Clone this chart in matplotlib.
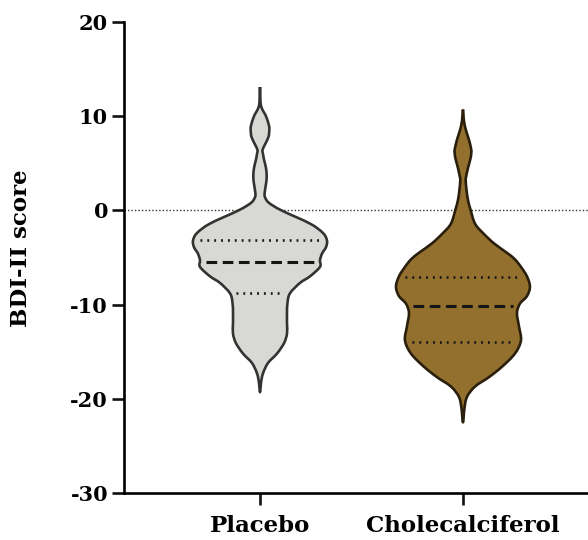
import numpy as np
import matplotlib.pyplot as plt
from matplotlib.path import Path
from matplotlib.patches import PathPatch

plt.rcParams["axes.unicode_minus"] = False

groups = ["Placebo", "Cholecalciferol"]
colors = ["#d8d9d4", "#93702e"]
edges = ["#333333", "#2a1f0c"]

# violin outline: score and half-width (relative density)
placebo_score = [13.1, 11.5, 10.8, 10.0, 9.0, 8.5, 7.8, 7.0, 6.4, 6.0, 5.4, 4.5, 3.6,
                 2.8, 1.9, 1.4, 0.8, 0.0, -1.4, -2.4, -3.2, -3.9, -4.6, -5.3, -6.0,
                 -7.0, -7.7, -8.8, -9.8, -10.9, -12.0, -13.1, -14.1, -15.2, -16.2,
                 -17.3, -18.3, -19.3]
placebo_width = [0, 0.5, 2, 6, 9, 9.3, 8.5, 5, 2.5, 3, 4, 6, 6.7,
                 6, 4.7, 5, 9, 21.5, 50, 63, 67, 66, 62, 60, 60,
                 50, 40, 30, 27.5, 27, 27, 27, 24, 17, 8,
                 3, 1, 0]

chole_score = [10.7, 9.5, 8.5, 7.5, 6.5, 6.1, 5.5, 4.5, 3.5, 3.2, 2.2, 1.1, 0.1,
               -1.4, -2.4, -3.5, -4.5, -5.2, -6.0, -7.0, -8.1, -9.1, -9.9, -10.9,
               -12.3, -13.8, -15.2, -16.6, -17.7, -18.7, -19.8, -21.0, -22.5]
chole_width = [0, 1, 3, 6, 8.2, 8.3, 7.5, 5, 3, 2.7, 3.5, 5, 7.5,
               12, 20, 31, 44, 52, 58, 64, 67, 64, 57, 54,
               56, 58, 52, 39, 26, 12, 4, 1.5, 0]

medians = [-5.5, -10.1]
q1 = [-8.8, -14.0]
q3 = [-3.1, -7.1]


def smooth_outline(xs, ys):
    # closed catmull-rom curve through the outline points, as bezier path
    pts = np.column_stack([xs, ys])
    n = len(pts)
    verts = [pts[0]]
    codes = [Path.MOVETO]
    for k in range(n):
        p0, p1, p2, p3 = pts[k - 1], pts[k], pts[(k + 1) % n], pts[(k + 2) % n]
        verts += [p1 + (p2 - p0) / 6, p2 - (p3 - p1) / 6, p2]
        codes += [Path.CURVE4] * 3
    return Path(verts, codes)


fig = plt.figure(figsize=(5.88, 5.40), dpi=100)
ax = fig.add_axes([124 / 588, 47 / 540, 464 / 588, 471 / 540])

font = {"family": "DejaVu Serif", "weight": "bold"}
scale = 0.33 / 67  # relative width -> x units

profiles = [(placebo_score, placebo_width), (chole_score, chole_width)]
ax.axhline(0, color="#333333", lw=1.0, ls=(0, (1, 1.5)), zorder=1)

for i, (sc, wd) in enumerate(profiles):
    pos = i + 1
    sc = np.array(sc)
    hw = np.array(wd) * scale
    xs = np.concatenate([pos + hw, (pos - hw)[-2:0:-1]])
    ys = np.concatenate([sc, sc[-2:0:-1]])
    patch = PathPatch(smooth_outline(xs, ys), facecolor=colors[i],
                      edgecolor=edges[i], lw=1.9, joinstyle="round", zorder=2)
    ax.add_patch(patch)
    for val, style, lw in [(medians[i], (0, (3.5, 1.8)), 2.2),
                           (q1[i], (0, (0.7, 1.9)), 1.9),
                           (q3[i], (0, (0.7, 1.9)), 1.9)]:
        w = np.interp(val, sc[::-1], hw[::-1]) - 0.03
        ax.plot([pos - w, pos + w], [val, val], color="#151515", lw=lw,
                ls=style, dash_capstyle="butt", zorder=3)

ax.set_xlim(0.33, 2.616)
ax.set_ylim(-30, 20)
ax.set_yticks([20, 10, 0, -10, -20, -30])
ax.set_xticks([1, 2])
ax.set_xticklabels(groups, fontdict=font, fontsize=16.5)
for lab in ax.get_yticklabels():
    lab.set_fontfamily("DejaVu Serif")
    lab.set_fontweight("bold")
    lab.set_fontsize(15)
ax.set_ylabel("BDI-II score", fontdict=font, fontsize=16.5)
ax.yaxis.set_label_coords(-0.198, 0.52)

for s in ["top", "right"]:
    ax.spines[s].set_visible(False)
for s in ["left", "bottom"]:
    ax.spines[s].set_linewidth(1.9)
ax.tick_params(axis="both", width=1.9, length=8.5, color="#111111")
ax.tick_params(axis="y", pad=3)
ax.tick_params(axis="x", pad=7)

plt.savefig("out.png", dpi=100)
plt.close()
